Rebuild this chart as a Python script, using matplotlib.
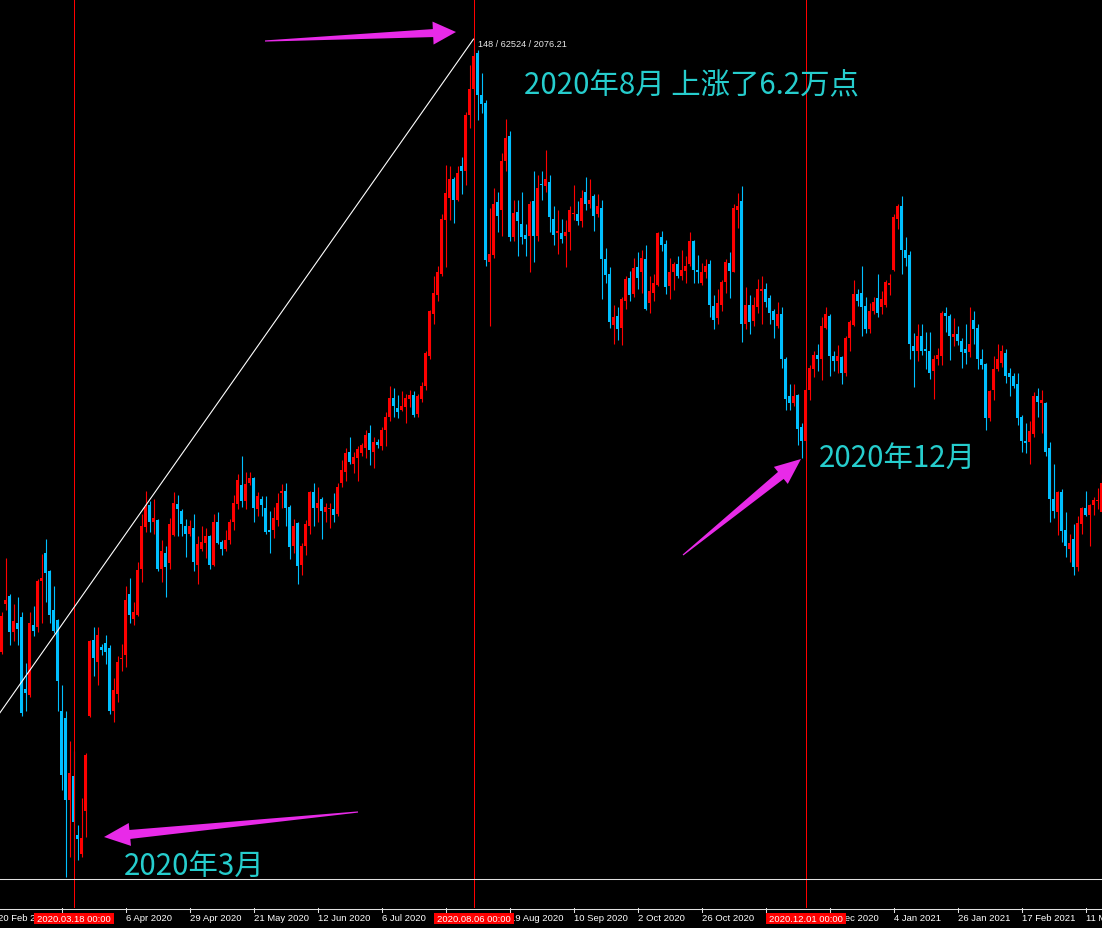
import numpy as np
import matplotlib
matplotlib.use("Agg")
import matplotlib.pyplot as plt
import matplotlib.transforms as mtransforms
from matplotlib.patches import Polygon, Rectangle
from matplotlib.lines import Line2D

plt.rcParams['font.family'] = ['Noto Sans CJK SC', 'DejaVu Sans']

# daily XAUUSD candles (open / high / low / close)
opens = [1621, 1657, 1663, 1636, 1643, 1647, 1594, 1589, 1641, 1640, 1674, 1695, 1681, 1652, 1645, 1577, 1572, 1511, 1529, 1485,
         1471, 1503, 1574, 1630, 1614, 1625, 1628, 1624, 1577, 1590, 1616, 1619, 1664, 1646, 1649, 1683, 1714, 1730, 1718, 1719,
         1683, 1695, 1687, 1708, 1731, 1726, 1715, 1709, 1713, 1686, 1698, 1702, 1707, 1686, 1718, 1703, 1698, 1704, 1718, 1731,
         1745, 1733, 1747, 1750, 1727, 1735, 1728, 1712, 1712, 1719, 1739, 1741, 1729, 1700, 1717, 1686, 1700, 1715, 1740, 1728,
         1735, 1725, 1727, 1727, 1724, 1747, 1755, 1770, 1761, 1765, 1769, 1773, 1784, 1770, 1777, 1774, 1786, 1796, 1810, 1802,
         1801, 1803, 1809, 1812, 1798, 1809, 1819, 1841, 1872, 1886, 1902, 1942, 1958, 1972, 1957, 1982, 1978, 2020, 2039, 2066,
         2035, 2029, 1911, 1916, 1955, 1949, 1986, 2004, 1929, 1948, 1939, 1931, 1930, 1956, 1930, 1969, 1967, 1970, 1943, 1932,
         1932, 1930, 1933, 1946, 1946, 1941, 1963, 1954, 1960, 1946, 1951, 1913, 1902, 1864, 1871, 1862, 1882, 1899, 1887, 1907,
         1903, 1913, 1880, 1888, 1894, 1929, 1924, 1893, 1903, 1909, 1900, 1904, 1909, 1926, 1905, 1895, 1903, 1909, 1878, 1869,
         1879, 1896, 1910, 1903, 1949, 1956, 1865, 1879, 1867, 1877, 1889, 1891, 1884, 1874, 1863, 1872, 1839, 1811, 1806, 1812,
         1788, 1778, 1816, 1831, 1842, 1839, 1862, 1871, 1841, 1837, 1840, 1828, 1854, 1864, 1887, 1888, 1878, 1861, 1874, 1884,
         1877, 1879, 1894, 1905, 1943, 1952, 1920, 1916, 1848, 1845, 1856, 1846, 1845, 1830, 1839, 1841, 1873, 1871, 1855, 1857,
         1852, 1846, 1844, 1868, 1862, 1839, 1835, 1795, 1816, 1831, 1836, 1843, 1828, 1826, 1820, 1796, 1778, 1777, 1783, 1811,
         1806, 1806, 1773, 1735, 1725, 1740, 1712, 1698, 1705, 1684, 1716, 1728, 1723, 1730, 1733, 1725]
highs = [1651, 1691, 1664, 1657, 1662, 1651, 1613, 1651, 1655, 1675, 1694, 1705, 1682, 1670, 1646, 1597, 1577, 1555, 1548, 1493,
         1513, 1546, 1630, 1640, 1640, 1627, 1634, 1626, 1602, 1618, 1627, 1670, 1676, 1658, 1688, 1724, 1741, 1733, 1735, 1720,
         1704, 1700, 1721, 1740, 1738, 1727, 1720, 1719, 1724, 1707, 1715, 1713, 1708, 1724, 1725, 1704, 1712, 1720, 1738, 1753,
         1767, 1755, 1755, 1751, 1740, 1737, 1737, 1726, 1729, 1739, 1746, 1747, 1730, 1720, 1718, 1702, 1719, 1741, 1747, 1744,
         1736, 1732, 1732, 1739, 1747, 1764, 1773, 1781, 1770, 1774, 1776, 1786, 1790, 1781, 1779, 1788, 1799, 1819, 1817, 1812,
         1815, 1813, 1816, 1815, 1813, 1822, 1845, 1875, 1900, 1908, 1946, 1983, 1982, 1974, 1982, 1989, 2022, 2057, 2072, 2068,
         2051, 2031, 1951, 1966, 1963, 1992, 2017, 2008, 1957, 1957, 1963, 1939, 1956, 1978, 1975, 1978, 1994, 1975, 1952, 1949,
         1943, 1942, 1952, 1968, 1956, 1964, 1974, 1972, 1961, 1961, 1957, 1921, 1907, 1879, 1877, 1885, 1900, 1904, 1914, 1918,
         1920, 1923, 1900, 1902, 1933, 1934, 1927, 1914, 1911, 1915, 1920, 1915, 1933, 1927, 1916, 1910, 1913, 1912, 1886, 1891,
         1897, 1913, 1918, 1954, 1962, 1967, 1892, 1886, 1885, 1898, 1900, 1895, 1886, 1876, 1881, 1877, 1840, 1820, 1820, 1813,
         1791, 1817, 1834, 1845, 1850, 1870, 1877, 1872, 1845, 1849, 1841, 1856, 1868, 1897, 1891, 1908, 1885, 1880, 1885, 1902,
         1889, 1897, 1902, 1946, 1954, 1960, 1929, 1919, 1858, 1865, 1865, 1859, 1859, 1842, 1847, 1874, 1877, 1872, 1869, 1863,
         1854, 1865, 1877, 1874, 1865, 1846, 1836, 1816, 1841, 1850, 1849, 1846, 1832, 1828, 1828, 1797, 1791, 1793, 1814, 1817,
         1816, 1807, 1777, 1761, 1741, 1742, 1725, 1709, 1716, 1722, 1729, 1741, 1731, 1736, 1743, 1753]
lows = [1620, 1652, 1626, 1629, 1626, 1574, 1577, 1588, 1633, 1636, 1643, 1658, 1643, 1635, 1577, 1519, 1454, 1469, 1467, 1467,
        1469, 1484, 1573, 1603, 1597, 1619, 1612, 1575, 1569, 1584, 1607, 1610, 1643, 1641, 1648, 1673, 1710, 1710, 1709, 1681,
        1673, 1662, 1683, 1707, 1707, 1707, 1692, 1707, 1681, 1672, 1696, 1691, 1683, 1685, 1701, 1693, 1696, 1701, 1712, 1727,
        1729, 1727, 1745, 1718, 1722, 1722, 1709, 1695, 1706, 1715, 1728, 1715, 1690, 1695, 1672, 1678, 1693, 1709, 1715, 1718,
        1705, 1718, 1713, 1718, 1722, 1744, 1748, 1761, 1754, 1748, 1767, 1765, 1760, 1758, 1773, 1771, 1774, 1793, 1796, 1795,
        1800, 1791, 1803, 1796, 1796, 1807, 1816, 1839, 1865, 1882, 1900, 1907, 1942, 1940, 1956, 1961, 1968, 2010, 2038, 2016,
        2021, 1908, 1863, 1914, 1933, 1930, 1978, 1926, 1926, 1915, 1924, 1915, 1903, 1911, 1926, 1957, 1963, 1933, 1923, 1917,
        1925, 1907, 1920, 1942, 1938, 1937, 1949, 1951, 1934, 1944, 1883, 1895, 1862, 1850, 1853, 1849, 1876, 1882, 1885, 1891,
        1888, 1875, 1873, 1882, 1893, 1919, 1887, 1883, 1890, 1899, 1897, 1895, 1908, 1895, 1895, 1894, 1899, 1870, 1861, 1865,
        1874, 1888, 1884, 1903, 1936, 1851, 1861, 1857, 1863, 1873, 1865, 1877, 1865, 1854, 1862, 1832, 1801, 1801, 1804, 1775,
        1765, 1764, 1808, 1825, 1830, 1823, 1861, 1826, 1830, 1828, 1820, 1826, 1845, 1863, 1878, 1856, 1858, 1858, 1872, 1870,
        1872, 1877, 1886, 1904, 1935, 1902, 1908, 1839, 1818, 1837, 1842, 1831, 1824, 1809, 1834, 1834, 1859, 1838, 1848, 1849,
        1832, 1835, 1840, 1850, 1831, 1831, 1786, 1793, 1808, 1830, 1833, 1821, 1811, 1817, 1790, 1770, 1769, 1761, 1781, 1796,
        1784, 1767, 1718, 1721, 1708, 1703, 1692, 1688, 1678, 1681, 1709, 1722, 1700, 1723, 1727, 1725]
closes = [1648, 1660, 1636, 1644, 1638, 1576, 1591, 1643, 1637, 1674, 1676, 1680, 1649, 1637, 1600, 1530, 1511, 1531, 1495, 1482,
          1483, 1545, 1629, 1617, 1634, 1623, 1621, 1577, 1593, 1614, 1617, 1660, 1649, 1651, 1682, 1715, 1729, 1718, 1721, 1683,
          1696, 1684, 1716, 1732, 1727, 1716, 1709, 1715, 1688, 1701, 1703, 1707, 1686, 1718, 1702, 1698, 1704, 1718, 1732, 1749,
          1733, 1746, 1750, 1728, 1737, 1730, 1710, 1710, 1721, 1732, 1741, 1728, 1699, 1715, 1685, 1700, 1716, 1740, 1728, 1732,
          1726, 1729, 1728, 1723, 1744, 1756, 1769, 1762, 1766, 1772, 1775, 1782, 1771, 1777, 1775, 1786, 1796, 1810, 1804, 1799,
          1804, 1810, 1812, 1797, 1811, 1819, 1843, 1874, 1888, 1903, 1943, 1962, 1972, 1957, 1977, 1978, 2020, 2039, 2064, 2035,
          2028, 1912, 1917, 1954, 1945, 1986, 2003, 1929, 1947, 1941, 1929, 1928, 1954, 1930, 1966, 1968, 1972, 1944, 1931, 1934,
          1928, 1933, 1949, 1947, 1941, 1958, 1954, 1957, 1945, 1952, 1913, 1901, 1866, 1870, 1861, 1883, 1898, 1886, 1906, 1899,
          1914, 1876, 1889, 1895, 1932, 1923, 1892, 1903, 1909, 1900, 1905, 1908, 1926, 1905, 1903, 1903, 1908, 1879, 1868, 1880,
          1896, 1911, 1904, 1951, 1952, 1865, 1879, 1866, 1879, 1891, 1891, 1881, 1873, 1868, 1872, 1839, 1809, 1806, 1811, 1787,
          1778, 1816, 1832, 1842, 1839, 1863, 1872, 1841, 1837, 1841, 1828, 1854, 1866, 1887, 1882, 1877, 1861, 1874, 1881, 1873,
          1883, 1896, 1895, 1944, 1952, 1920, 1914, 1850, 1845, 1856, 1845, 1845, 1828, 1839, 1842, 1873, 1871, 1856, 1857, 1852,
          1844, 1843, 1850, 1861, 1839, 1834, 1795, 1815, 1831, 1839, 1845, 1826, 1825, 1819, 1795, 1778, 1776, 1785, 1811, 1807,
          1808, 1770, 1735, 1726, 1740, 1711, 1700, 1702, 1684, 1717, 1728, 1723, 1730, 1734, 1734, 1747]

# time axis labels (bar index -> text), one every 16 bars; '' where a date box covers it
tick_bars = [-1, 15, 31, 47, 63, 79, 95, 111, 127, 143, 159, 175, 191, 207, 223, 239, 255, 271]
tick_texts = ['20 Feb 2020', '', '6 Apr 2020', '29 Apr 2020', '21 May 2020', '12 Jun 2020', '6 Jul 2020',
              '', '19 Aug 2020', '10 Sep 2020', '2 Oct 2020', '26 Oct 2020', '', '9 Dec 2020',
              '4 Jan 2021', '26 Jan 2021', '17 Feb 2021', '11 Mar 2021']

# vertical marker lines and their date boxes
mark_bars = [18, 118, 201]
mark_texts = ['2020.03.18 00:00', '2020.08.06 00:00', '2020.12.01 00:00']

# trend line (bar index, price)
trend_bars = [-30, 118]
trend_prices = [1450.97, 2076.21]

W, HP = 1102, 929
UP = '#FF0000'
DOWN = '#00BFFF'
MAG = '#E82AE8'
CYAN = '#26CDCD'


def fx(x):
    return x / W


def fy(y):
    return 1 - y / HP


fig = plt.figure(figsize=(11.02, 9.29), dpi=100, facecolor='black')
ax = fig.add_axes([0, fy(909), 1, 909 / HP])
ax.set_facecolor('black')
ax.set_xlim(-0.375, 275.125)
ax.set_ylim(1431.1, 2106.0)
ax.axis('off')

o = np.array(opens, float)
h = np.array(highs, float)
l = np.array(lows, float)
c = np.array(closes, float)
x = np.arange(len(o))
cols = np.where(c >= o, UP, DOWN)

ax.vlines(x, l, h, colors=cols, linewidth=0.8)
body = np.maximum(np.abs(c - o), 0.8)
ax.bar(x, body, bottom=np.minimum(o, c), width=0.82, color=cols, linewidth=0, antialiased=False)

# marker lines
for b in mark_bars:
    ax.axvline(b, color='#FF0000', lw=0.72)

# trend line + its label
ax.plot(trend_bars, trend_prices, color='white', lw=0.8)
ax.text(119.1, 2072.6, '%d / %d / %.2f' % (trend_bars[1] - trend_bars[0],
                                            round((trend_prices[1] - trend_prices[0]) * 100), trend_prices[1]),
        color='#E8E8E8', fontsize=6.6, va='center', ha='left', family=['Liberation Sans'])

# bottom lines
fig.add_artist(Line2D([0, 1], [fy(880), fy(880)], transform=fig.transFigure, color='#E0E0E0', lw=0.75))
fig.add_artist(Line2D([0, 1], [fy(909.5), fy(909.5)], transform=fig.transFigure, color='#E0E0E0', lw=0.75))

trans = mtransforms.blended_transform_factory(ax.transData, fig.transFigure)
for b, t in zip(tick_bars, tick_texts):
    fig.add_artist(Line2D([b, b], [fy(909), fy(913)], transform=trans, color='#E0E0E0', lw=0.75))
    if t:
        fig.text(b, fy(918.5), t, transform=trans, color='white', fontsize=6.8, ha='left', va='center',
                 family=['Liberation Sans'], zorder=3)

for b, t in zip(mark_bars, mark_texts):
    fig.add_artist(Rectangle((b - 10, fy(925)), 20, 11 / HP, transform=trans, facecolor='#FF0000',
                             edgecolor='none', zorder=5))
    fig.text(b, fy(919.5), t, transform=trans, color='white', fontsize=6.8, ha='center', va='center',
             family=['Liberation Sans'], zorder=6)


def arrow(tail, tip, head_len, head_w, shaft_w):
    t = np.array(tail, float)
    p = np.array(tip, float)
    d = p - t
    u = d / np.hypot(*d)
    nv = np.array([-u[1], u[0]])
    base = p - u * head_len
    pts = [t + nv * 0.6, base + nv * shaft_w / 2, base + nv * head_w / 2, p,
           base - nv * head_w / 2, base - nv * shaft_w / 2, t - nv * 0.6]
    pts = [(fx(a), fy(b)) for a, b in pts]
    fig.add_artist(Polygon(pts, closed=True, transform=fig.transFigure, facecolor=MAG, edgecolor='none'))


arrow((265, 42), (456, 33), 23, 23, 8)
arrow((683, 556), (801, 460), 26, 22, 9)
arrow((358, 813), (104, 838), 26, 23, 9)

# annotations
fig.text(fx(524), fy(86), '2020年8月 上涨了6.2万点', color=CYAN, fontsize=21.2, ha='left', va='center')
fig.text(fx(819), fy(458), '2020年12月', color=CYAN, fontsize=21.2, ha='left', va='center')
fig.text(fx(124), fy(866), '2020年3月', color=CYAN, fontsize=21.2, ha='left', va='center')

fig.savefig('out.png', dpi=100, facecolor='black')
